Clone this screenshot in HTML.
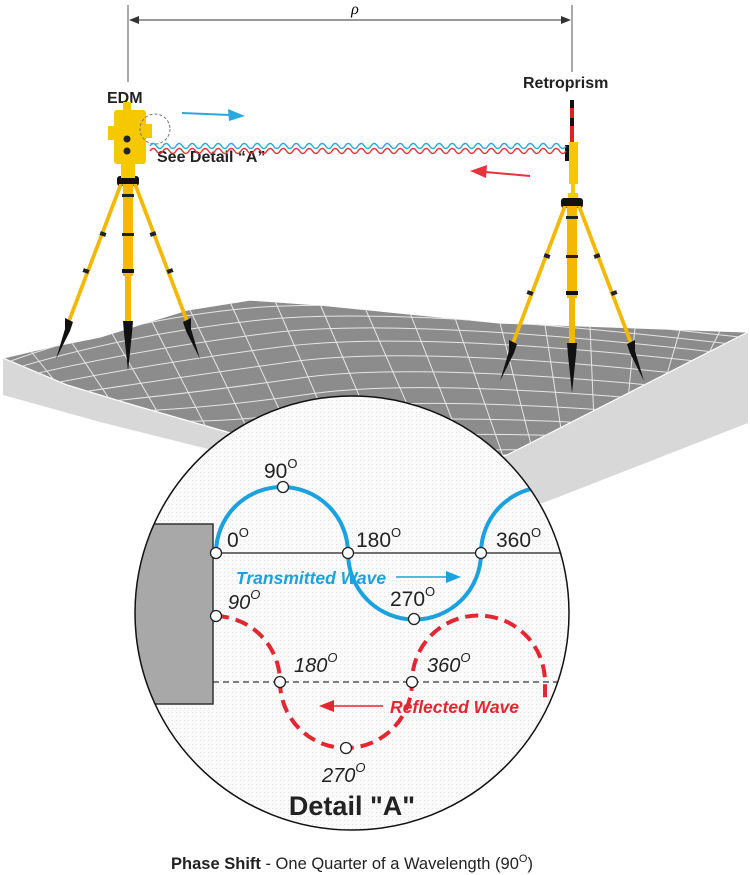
<!DOCTYPE html>
<html><head><meta charset="utf-8"><style>
html,body{margin:0;padding:0;background:#fff}
svg{display:block}
text{font-family:"Liberation Sans",sans-serif}
.ser{font-family:"Liberation Serif",serif;font-style:italic}
</style></head><body>
<svg width="750" height="875" viewBox="0 0 750 875" xmlns="http://www.w3.org/2000/svg">
<defs>
<pattern id="dots" width="4" height="4" patternUnits="userSpaceOnUse"><rect width="4" height="4" fill="#fafafa"/><rect width="1" height="1" fill="#e0e0e0"/></pattern>
<clipPath id="cc"><circle cx="352" cy="613" r="217"/></clipPath>
<clipPath id="sc"><polygon points="3,358 50,347 100,337 187,310 250,300 320,305 420,315 500,323 748,332 507,455 400,465 300,450 227,432 133,405 67,385"/></clipPath>
<g id="tri">
 <rect x="-11" y="-5" width="22" height="10" rx="3" fill="#111"/>
 <polygon points="-9,3 -5,3 -57,140 -61,140" fill="#f5b800"/>
 <polygon points="5,3 9,3 61,140 57,140" fill="#f5b800"/>
 <rect x="-5" y="3" width="10" height="92" fill="#f5b800"/>
 <rect x="-3" y="95" width="6" height="50" fill="#f5b800"/>
 <rect x="-6" y="13" width="12" height="3" fill="#222"/>
 <rect x="-6" y="52" width="12" height="3" fill="#222"/>
 <rect x="-6" y="88" width="12" height="4" fill="#111"/>
 <polygon points="-5,140 5,140 4,152 0,190 -4,152" fill="#111"/>
 <polygon points="-63,137 -55,141 -58,150 -72,178 -63,148" fill="#111"/>
 <polygon points="55,141 63,137 63,148 72,178 58,150" fill="#111"/>
 <rect x="-28" y="51" width="6" height="4" fill="#222" transform="rotate(20 -25 53)"/>
 <rect x="22" y="51" width="6" height="4" fill="#222" transform="rotate(-20 25 53)"/>
 <rect x="-45" y="88" width="6" height="4" fill="#222" transform="rotate(20 -42 90)"/>
 <rect x="39" y="88" width="6" height="4" fill="#222" transform="rotate(-20 42 90)"/>
</g>
</defs>

<!-- terrain -->
<polygon points="3,358 67,385 133,405 227,432 300,450 300,472 200,447 100,422 3,395" fill="#d8d8d8"/>
<polygon points="748,332 748,423 543,503 450,490 507,455" fill="#d8d8d8"/>
<polygon points="3,358 50,347 100,337 187,310 250,300 320,305 420,315 500,323 748,332 507,455 400,465 300,450 227,432 133,405 67,385" fill="#8c8c8c" stroke="#fff" stroke-width="1.2"/>
<g clip-path="url(#sc)" stroke="#e6e6e6" stroke-width="1" fill="none">
 <path d="M0,365 Q120,320 250,308 T748,338"/>
 <path d="M0,373 Q120,335 260,320 T748,346"/>
 <path d="M0,382 Q130,350 270,333 T748,356"/>
 <path d="M20,390 Q140,365 280,347 T740,366"/>
 <path d="M50,397 Q160,380 290,362 T720,378"/>
 <path d="M80,404 Q180,395 300,378 T700,390"/>
 <path d="M110,412 Q200,410 310,394 T680,402"/>
 <path d="M140,420 Q220,425 320,410 T660,414"/>
 <path d="M170,428 Q240,440 330,426 T640,426"/>
 <path d="M200,436 Q260,455 340,442 T620,438"/>
 <path d="M240,446 Q300,468 360,458 T590,450"/>
 <path d="M30,350 L70,400"/><path d="M70,340 L120,415"/><path d="M110,330 L165,425"/>
 <path d="M150,318 L210,435"/><path d="M190,310 L255,445"/><path d="M230,302 L300,455"/>
 <path d="M275,301 L345,462"/><path d="M320,304 L390,468"/><path d="M365,308 L435,468"/>
 <path d="M410,313 L470,465"/><path d="M455,318 L505,462"/><path d="M500,323 L535,460"/>
 <path d="M545,325 L565,455"/><path d="M590,327 L595,445"/><path d="M635,328 L625,430"/>
 <path d="M680,330 L655,415"/><path d="M720,331 L685,400"/>
</g>

<!-- dimension -->
<line x1="128" y1="5" x2="128" y2="82" stroke="#555" stroke-width="1"/>
<line x1="572" y1="5" x2="572" y2="72" stroke="#555" stroke-width="1"/>
<line x1="130" y1="20" x2="570" y2="20" stroke="#333" stroke-width="1"/>
<polygon points="129,20 139,16 139,24" fill="#333"/>
<polygon points="571,20 561,16 561,24" fill="#333"/>
<text x="355" y="14" font-size="16" class="ser" text-anchor="middle">ρ</text>

<text x="107" y="103" font-size="16" font-weight="bold" fill="#222">EDM</text>
<text x="523" y="88" font-size="16" font-weight="bold" fill="#222">Retroprism</text>

<!-- tripods -->
<use href="#tri" x="128" y="181"/>
<use href="#tri" x="572" y="203"/>

<!-- EDM -->
<rect x="121" y="162" width="14" height="16" fill="#f5c800"/>
<rect x="114" y="110" width="32" height="54" rx="3" fill="#f5c800"/>
<rect x="123" y="102" width="8" height="10" fill="#f5c800"/>
<rect x="108" y="126" width="8" height="14" fill="#f5c800"/>
<rect x="145" y="124" width="7" height="14" fill="#f5c800"/>
<circle cx="127" cy="139" r="3.5" fill="#222"/><circle cx="127" cy="151" r="3.5" fill="#222"/>
<circle cx="155" cy="129" r="15" fill="none" stroke="#777" stroke-dasharray="3,2"/>
<text x="157" y="162" font-size="16" font-weight="bold" fill="#222">See Detail “A”</text>

<!-- retroprism -->
<rect x="570" y="100" width="4" height="42" fill="#d22"/>
<rect x="570" y="100" width="4" height="8" fill="#111"/><rect x="570" y="118" width="4" height="8" fill="#111"/>
<rect x="569" y="142" width="9" height="42" fill="#f5c800"/>
<rect x="565" y="145" width="4" height="16" fill="#111"/>
<rect x="571" y="184" width="4" height="10" fill="#f5c800"/>
<rect x="568" y="193" width="10" height="5" fill="#f5c800"/>

<!-- waves -->
<path fill="none" stroke="#29a8e0" stroke-width="1.4" d="M150,146 q3.25,-5 6.5,0 t6.5,0 t6.5,0 t6.5,0 t6.5,0 t6.5,0 t6.5,0 t6.5,0 t6.5,0 t6.5,0 t6.5,0 t6.5,0 t6.5,0 t6.5,0 t6.5,0 t6.5,0 t6.5,0 t6.5,0 t6.5,0 t6.5,0 t6.5,0 t6.5,0 t6.5,0 t6.5,0 t6.5,0 t6.5,0 t6.5,0 t6.5,0 t6.5,0 t6.5,0 t6.5,0 t6.5,0 t6.5,0 t6.5,0 t6.5,0 t6.5,0 t6.5,0 t6.5,0 t6.5,0 t6.5,0 t6.5,0 t6.5,0 t6.5,0 t6.5,0 t6.5,0 t6.5,0 t6.5,0 t6.5,0 t6.5,0 t6.5,0 t6.5,0 t6.5,0 t6.5,0 t6.5,0 t6.5,0 t6.5,0 t6.5,0 t6.5,0 t6.5,0 t6.5,0 t6.5,0 t6.5,0 t6.5,0 t6.5,0"/>
<path fill="none" stroke="#e8323c" stroke-width="1.4" d="M150,151 q3.25,-5 6.5,0 t6.5,0 t6.5,0 t6.5,0 t6.5,0 t6.5,0 t6.5,0 t6.5,0 t6.5,0 t6.5,0 t6.5,0 t6.5,0 t6.5,0 t6.5,0 t6.5,0 t6.5,0 t6.5,0 t6.5,0 t6.5,0 t6.5,0 t6.5,0 t6.5,0 t6.5,0 t6.5,0 t6.5,0 t6.5,0 t6.5,0 t6.5,0 t6.5,0 t6.5,0 t6.5,0 t6.5,0 t6.5,0 t6.5,0 t6.5,0 t6.5,0 t6.5,0 t6.5,0 t6.5,0 t6.5,0 t6.5,0 t6.5,0 t6.5,0 t6.5,0 t6.5,0 t6.5,0 t6.5,0 t6.5,0 t6.5,0 t6.5,0 t6.5,0 t6.5,0 t6.5,0 t6.5,0 t6.5,0 t6.5,0 t6.5,0 t6.5,0 t6.5,0 t6.5,0 t6.5,0 t6.5,0 t6.5,0 t6.5,0"/>
<line x1="182" y1="113" x2="230" y2="115" stroke="#29a8e0" stroke-width="2"/>
<polygon points="245,116 228,109 229,121" fill="#29a8e0"/>
<line x1="530" y1="176" x2="485" y2="172" stroke="#e8323c" stroke-width="2"/>
<polygon points="470,171 487,165 486,178" fill="#e8323c"/>

<!-- detail circle -->
<circle cx="352" cy="613" r="217" fill="url(#dots)"/>
<g clip-path="url(#cc)">
 <rect x="120" y="524" width="93" height="180" fill="#a8a8a8" stroke="#333" stroke-width="1.5"/>
 <line x1="213" y1="553" x2="575" y2="553" stroke="#444" stroke-width="1.5"/>
 <line x1="213" y1="682" x2="575" y2="682" stroke="#333" stroke-width="1.2" stroke-dasharray="6,4"/>
 <path d="M216,553 A66,66 0 0 1 348,553 A66,66 0 0 0 481,553 A66,66 0 0 1 613,553" fill="none" stroke="#1aa2e0" stroke-width="4"/>
 <path d="M216,616 A66,66 0 0 1 280,682 A66,66 0 0 0 412,682 A66,66 0 0 1 545,682 L545,698" fill="none" stroke="#e3262f" stroke-width="4" stroke-dasharray="13,7"/>
</g>
<circle cx="352" cy="613" r="217" fill="none" stroke="#111" stroke-width="1.5"/>
<g fill="#fff" stroke="#222" stroke-width="1.3">
 <circle cx="216" cy="553" r="5.5"/><circle cx="283" cy="487" r="5.5"/><circle cx="348" cy="553" r="5.5"/>
 <circle cx="414" cy="619" r="5.5"/><circle cx="481" cy="553" r="5.5"/>
 <circle cx="216" cy="616" r="5.5"/><circle cx="280" cy="682" r="5.5"/><circle cx="346" cy="748" r="5.5"/><circle cx="412" cy="682" r="5.5"/>
</g>
<g font-size="21" fill="#222">
 <text x="264" y="478">90<tspan font-size="13" dy="-10">O</tspan></text>
 <text x="227" y="547">0<tspan font-size="13" dy="-10">O</tspan></text>
 <text x="356" y="547">180<tspan font-size="13" dy="-10">O</tspan></text>
 <text x="496" y="547">360<tspan font-size="13" dy="-10">O</tspan></text>
 <text x="390" y="606">270<tspan font-size="13" dy="-10">O</tspan></text>
</g>
<g font-size="20" fill="#222" class="ser">
 <text x="228" y="609">90<tspan font-size="13" dy="-10">O</tspan></text>
 <text x="294" y="672">180<tspan font-size="13" dy="-10">O</tspan></text>
 <text x="427" y="672">360<tspan font-size="13" dy="-10">O</tspan></text>
 <text x="322" y="782">270<tspan font-size="13" dy="-10">O</tspan></text>
</g>
<text x="236" y="584" font-size="17.5" font-weight="bold" font-style="italic" fill="#1aa2e0">Transmitted Wave</text>
<line x1="396" y1="577" x2="448" y2="577" stroke="#1aa2e0" stroke-width="1.5"/>
<polygon points="461,577 446,571 446,583" fill="#1aa2e0"/>
<text x="390" y="713" font-size="17.5" font-weight="bold" font-style="italic" fill="#e3262f">Reflected Wave</text>
<line x1="383" y1="706" x2="332" y2="706" stroke="#e3262f" stroke-width="1.5"/>
<polygon points="319,706 334,700 334,712" fill="#e3262f"/>
<text x="352" y="815" font-size="27" font-weight="bold" fill="#222" text-anchor="middle">Detail "A"</text>

<text x="352" y="869" font-size="16.5" fill="#222" text-anchor="middle"><tspan font-weight="bold">Phase Shift</tspan> - One Quarter of a Wavelength (90<tspan font-size="11" dy="-7">O</tspan><tspan dy="7">)</tspan></text>
</svg>
</body></html>
